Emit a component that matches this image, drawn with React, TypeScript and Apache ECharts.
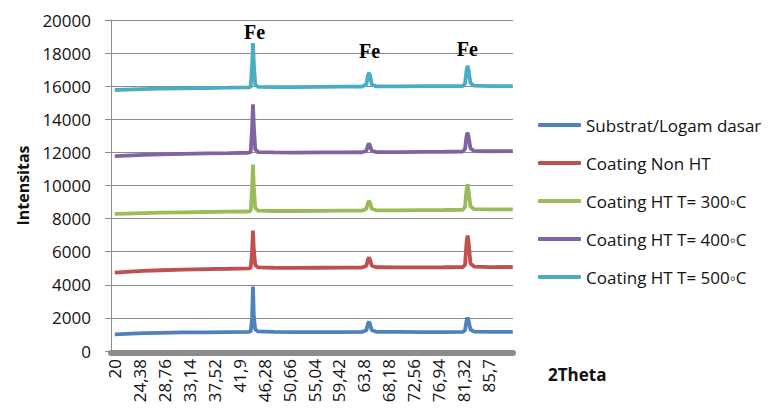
import React, { useEffect, useRef } from "react";
import * as echarts from "echarts";

// 2θ sample positions (degrees), shared by all series
const theta = [20, 22, 25, 28, 32, 36, 40, 43.5, 43.9, 44.15, 44.3, 44.45, 44.7, 45.2, 48, 52, 56, 60, 63.5, 64.25, 64.55, 64.72, 64.9, 65.2, 66, 70, 74, 78, 81.2, 81.6, 81.88, 82.07, 82.25, 82.55, 83.2, 86, 90];

const substrat = [1010, 1040, 1080, 1100, 1120, 1130, 1140, 1150, 1180, 2000, 3900, 2100, 1300, 1180, 1150, 1140, 1140, 1140, 1150, 1250, 1650, 1780, 1600, 1250, 1160, 1150, 1140, 1140, 1150, 1250, 1850, 2020, 1800, 1300, 1170, 1150, 1150];
const coatingNonHT = [4730, 4780, 4840, 4880, 4920, 4950, 4970, 4990, 5020, 6000, 7280, 6100, 5200, 5050, 5030, 5020, 5030, 5040, 5040, 5150, 5550, 5650, 5500, 5150, 5060, 5050, 5050, 5060, 5070, 5200, 6600, 6980, 6500, 5300, 5100, 5070, 5075];
const coatingHT300 = [8280, 8300, 8330, 8360, 8380, 8400, 8420, 8430, 8460, 9800, 11270, 9900, 8650, 8480, 8460, 8460, 8470, 8480, 8480, 8600, 8980, 9080, 8950, 8600, 8500, 8500, 8510, 8520, 8530, 8700, 9800, 10080, 9600, 8750, 8570, 8560, 8560];
const coatingHT400 = [11780, 11810, 11850, 11880, 11910, 11940, 11960, 11980, 12010, 13500, 14900, 13600, 12200, 12020, 12000, 11990, 12000, 12000, 12010, 12100, 12450, 12530, 12400, 12100, 12020, 12020, 12030, 12040, 12050, 12200, 13000, 13200, 12900, 12250, 12080, 12070, 12080];
const coatingHT500 = [15770, 15790, 15820, 15850, 15870, 15890, 15910, 15930, 15960, 17300, 18600, 17400, 16100, 15960, 15950, 15950, 15960, 15970, 15980, 16100, 16700, 16800, 16650, 16100, 15990, 15990, 16000, 16000, 16000, 16150, 17000, 17230, 16900, 16200, 16030, 16010, 16010];

const seriesNames = [
  "Substrat/Logam dasar",
  "Coating Non HT",
  "Coating HT T= 300\u25E6C",
  "Coating HT T= 400\u25E6C",
  "Coating HT T= 500\u25E6C",
];
const seriesColors = ["#4F81BD", "#C0504D", "#9BBB59", "#8064A2", "#4BACC6"];
const seriesValues = [substrat, coatingNonHT, coatingHT300, coatingHT400, coatingHT500];

const xTickLabels = ["20", "24,38", "28,76", "33,14", "37,52", "41,9", "46,28", "50,66", "55,04", "59,42", "63,8", "68,18", "72,56", "76,94", "81,32", "85,7"];
const xTickValues = xTickLabels.map((s) => parseFloat(s.replace(",", ".")));

// "Fe" peak annotations, in data units (2θ, intensity)
const feAnnotations = [
  { theta: 44.57, value: 19305 },
  { theta: 64.81, value: 18157 },
  { theta: 82.0, value: 18248 },
];

export default function App() {
  const ref = useRef<HTMLDivElement>(null);
  useEffect(() => {
    if (!ref.current) return;
    const chart = echarts.init(ref.current, undefined, { renderer: "svg" });
    const series = seriesNames.map((name, i) => ({
      name,
      type: "line",
      data: theta.map((t, k) => [t, seriesValues[i][k]]),
      showSymbol: false,
      symbol: "none",
      lineStyle: { color: seriesColors[i], width: 3.8 },
      itemStyle: { color: seriesColors[i] },
      z: 2 + i,
      ...(i === 4
        ? {
            markPoint: {
              symbol: "circle",
              symbolSize: 1,
              itemStyle: { color: "rgba(0,0,0,0)" },
              label: {
                show: true,
                position: "inside",
                formatter: "Fe",
                fontFamily: "Liberation Serif",
                fontWeight: "bold",
                fontSize: 20,
                color: "#000",
              },
              data: feAnnotations.map((a) => ({ coord: [a.theta, a.value] })),
            },
          }
        : {}),
    }));
    chart.setOption({
      animation: false,
      backgroundColor: "#fff",
      grid: { left: 111, right: 255, top: 20, bottom: 58, containLabel: false, outerBoundsMode: "none" },
      legend: {
        orient: "vertical",
        left: 533,
        top: 110,
        icon: "roundRect",
        itemWidth: 43,
        itemHeight: 4,
        itemGap: 18,
        data: seriesNames,
        textStyle: { fontFamily: "Open Sans", fontSize: 17, color: "#111", lineHeight: 20 },
      },
      xAxis: {
        type: "value",
        min: 19.33,
        max: 90.04,
        offset: 2,
        axisLine: { show: true, onZero: false, lineStyle: { color: "#8c8c8c", width: 6 } },
        axisTick: { show: false },
        splitLine: { show: false },
        axisLabel: {
          customValues: xTickValues,
          rotate: 90,
          margin: 6,
          fontFamily: "Open Sans",
          fontSize: 17,
          color: "#111",
          formatter: (v: number) => {
            const idx = xTickValues.findIndex((t) => Math.abs(t - v) < 1e-6);
            return idx >= 0 ? xTickLabels[idx] : "";
          },
        },
      },
      yAxis: {
        type: "value",
        min: 0,
        max: 20000,
        interval: 2000,
        name: "Intensitas",
        nameLocation: "middle",
        nameRotate: 90,
        nameGap: 80,
        nameTextStyle: { fontFamily: "Open Sans", fontWeight: "bold", fontSize: 16, color: "#111" },
        axisLine: { show: true, lineStyle: { color: "#8c8c8c", width: 1 } },
        axisTick: { show: true, length: 6, lineStyle: { color: "#8c8c8c" } },
        splitLine: { show: true, lineStyle: { color: "#8c8c8c", width: 1 } },
        axisLabel: {
          fontFamily: "Open Sans",
          fontSize: 17,
          color: "#111",
          margin: 20,
          formatter: (v: number) => String(v),
        },
      },
      graphic: [
        {
          type: "text",
          left: 548,
          top: 366,
          style: { text: "2Theta", font: "bold 17px 'Open Sans'", fill: "#111" },
        },
      ],
      series,
    });
    return () => chart.dispose();
  }, []);
  return <div ref={ref} style={{ position: "fixed", left: 0, top: 0, width: 768, height: 409 }} />;
}
